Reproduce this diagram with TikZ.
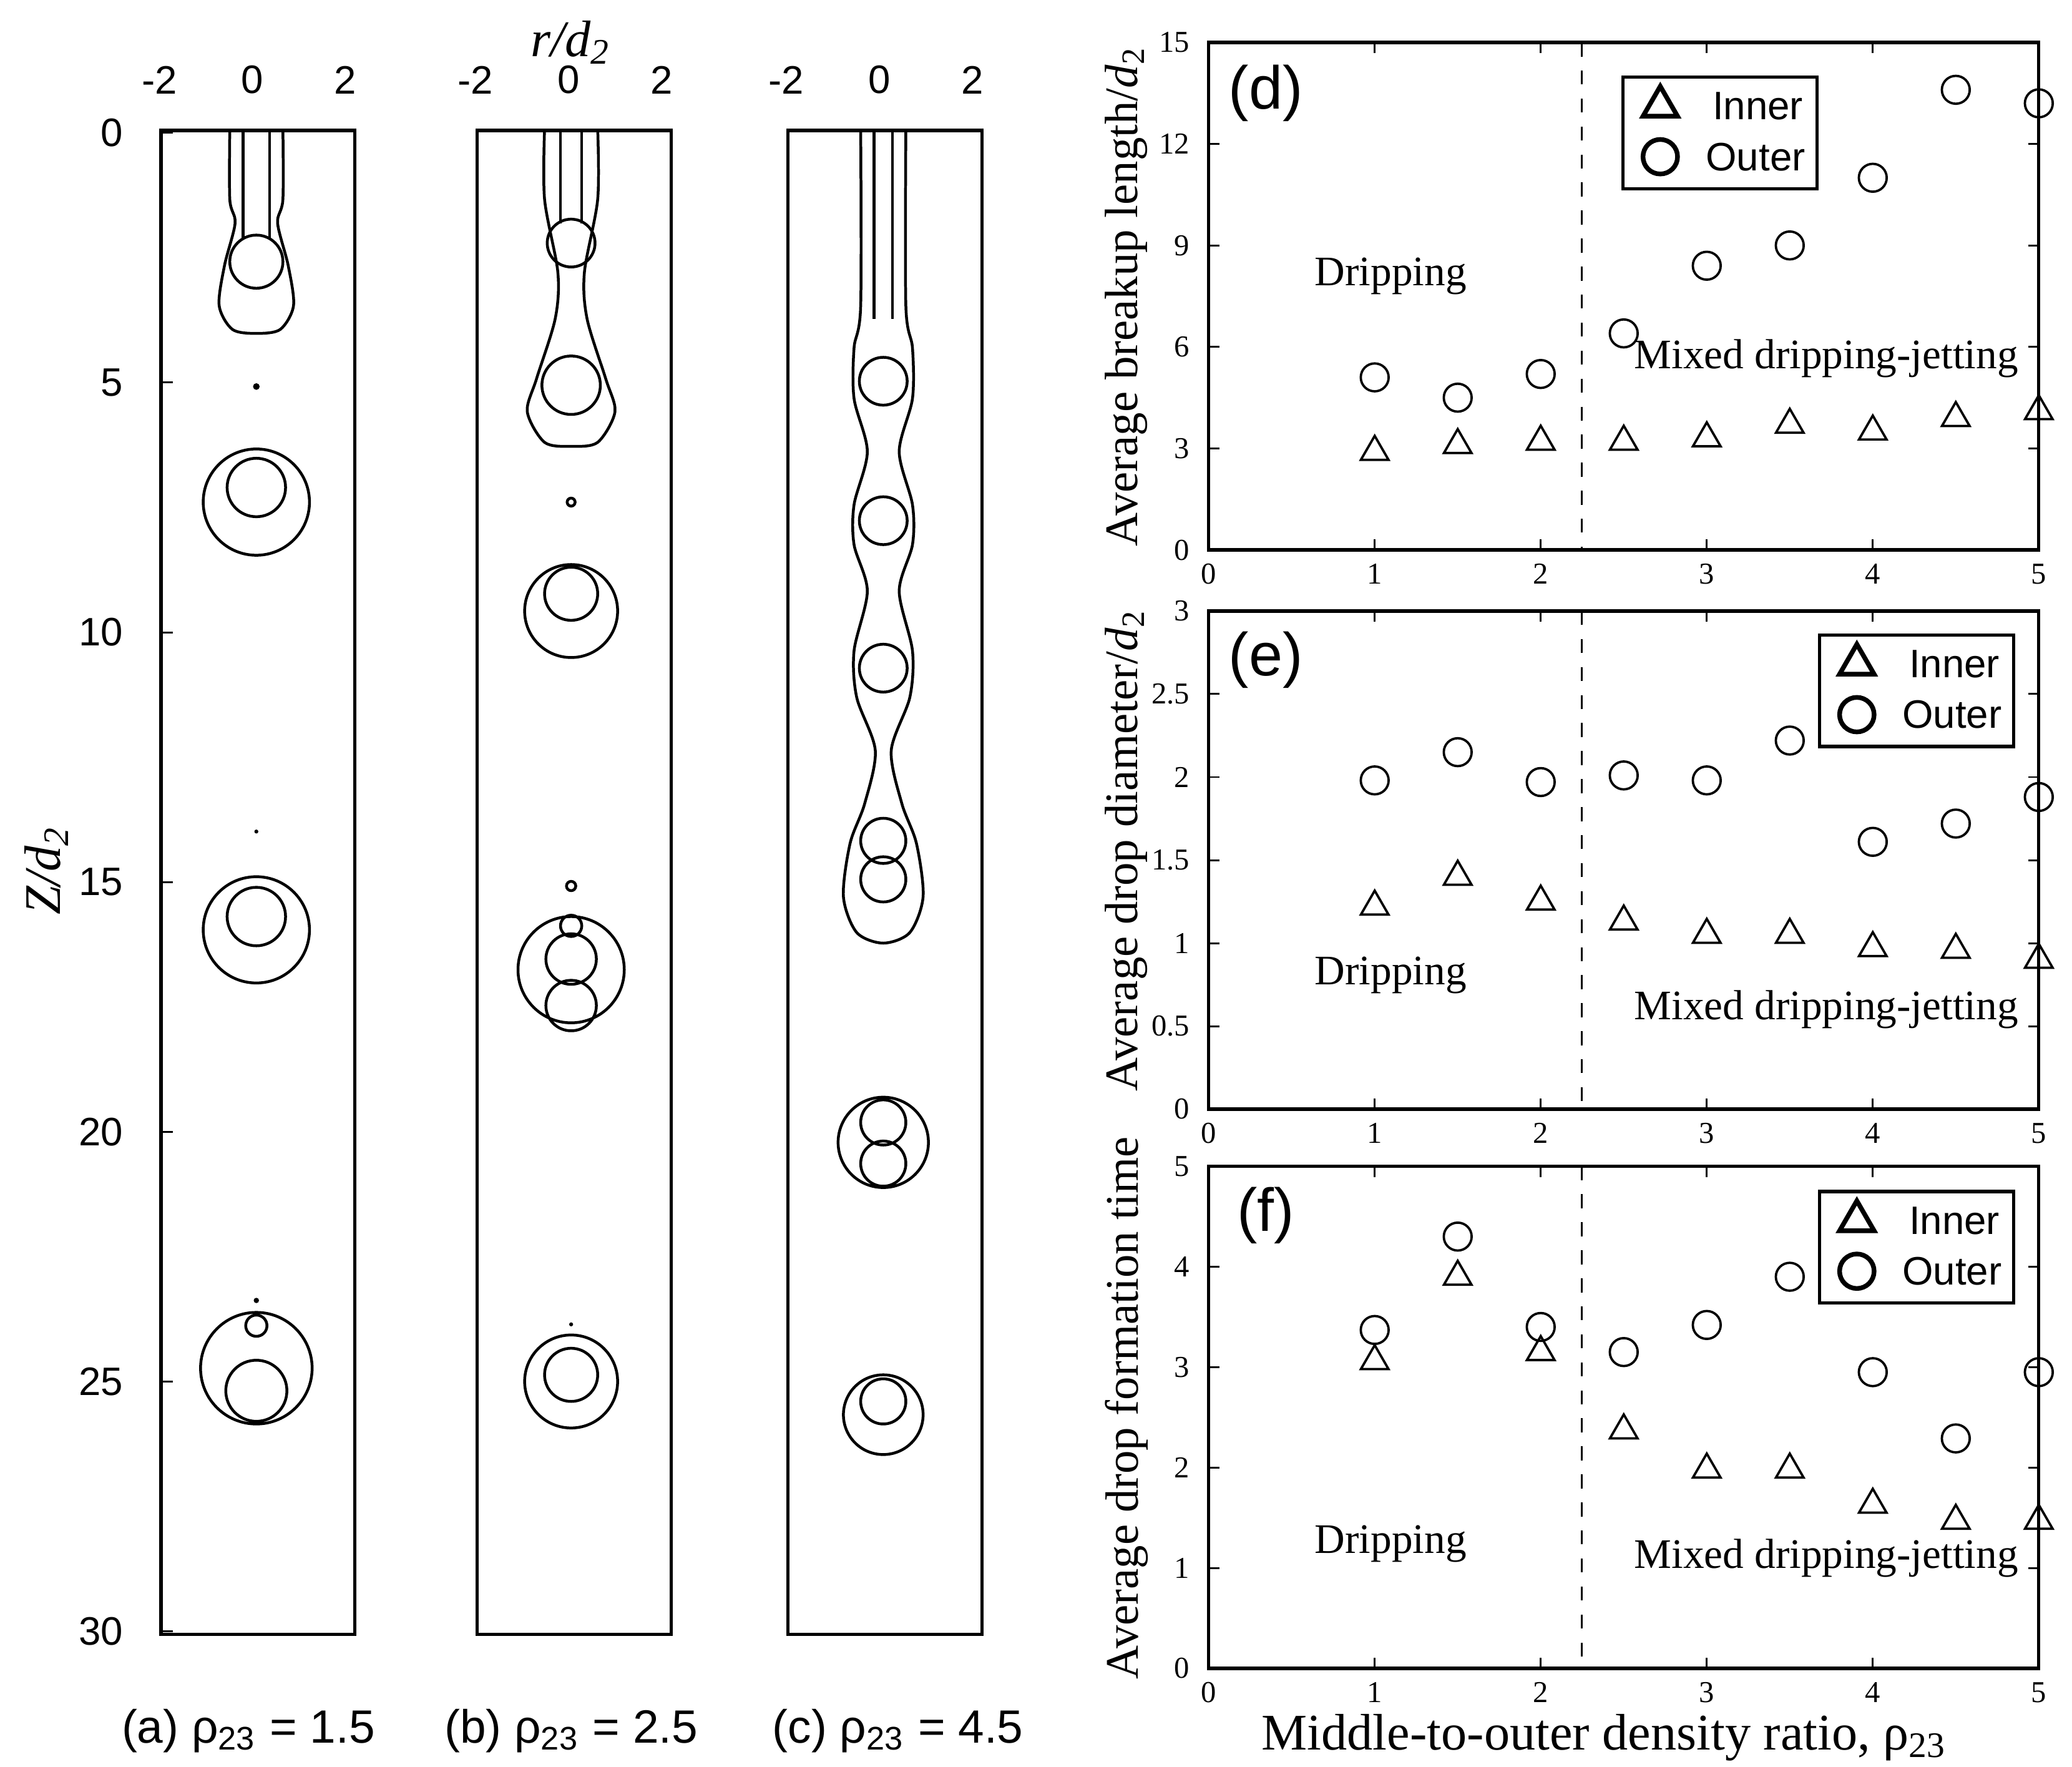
\documentclass[tikz,border=0pt]{standalone}
\usepackage{fontspec}
\setmainfont{Liberation Serif}
\setsansfont{Liberation Sans}
\usetikzlibrary{shapes, positioning, calc}
\tikzset{
  box/.style={draw, line width=0.7pt},
  shape line/.style={line width=0.6pt},
  tri/.style={draw, regular polygon, regular polygon sides=3, inner sep=0pt, minimum size=2.4mm, line width=0.5pt},
  circ/.style={draw, circle, inner sep=0pt, minimum size=2.1mm, line width=0.5pt},
  ticklab/.style={font=\fontsize{6.5}{6.5}\selectfont},
  sanslab/.style={font=\sffamily\fontsize{8.5}{8.5}\selectfont},
  regime/.style={font=\fontsize{9}{9}\selectfont},
}
\begin{document}
\begin{tikzpicture}[x=0.1mm, y=-0.1mm]
\useasboundingbox (0,0) rectangle (1560,1330);
% ---------- left: drop snapshots ----------
\foreach \bx/\nm in {120/a, 358/b, 592/c}{
  \node[box, minimum width=14.6mm, minimum height=113.2mm, inner sep=0pt, anchor=north west] (panel_\nm) at (\bx,97) {};
  \foreach \r in {-2,0,2}
    \node[sanslab, above] (rt_\nm\r) at ({\bx+70+\r*35},83) {\r};
}
\node[font=\itshape\fontsize{11}{11}\selectfont] (rlab) at (430,32) {r/d\textsubscript{2}};
\foreach \z in {0,5,10,15,20,25,30}{
  \node[sanslab, left] (zt\z) at (105,{100+\z*37.6}) {\z};
  \draw (panel_a.west |- 0,{100+\z*37.6}) -- ++(10,0);
}
\node[rotate=90, font=\itshape\fontsize{11}{11}\selectfont] (zlab) at (35,655) {Z/d\textsubscript{2}};
\node[font=\sffamily\fontsize{10}{10}\selectfont] (cap_a) at (187,1303) {(a) ρ\textsubscript{23} = 1.5};
\node[font=\sffamily\fontsize{10}{10}\selectfont] (cap_b) at (430,1303) {(b) ρ\textsubscript{23} = 2.5};
\node[font=\sffamily\fontsize{10}{10}\selectfont] (cap_c) at (676,1303) {(c) ρ\textsubscript{23} = 4.5};
% panel (a)
\begin{scope}[shift={(193,0)}, shape line]
  \draw plot[smooth] coordinates {(-20,97) (-20,150) (-16,168) (-24,200) (-28,230) (-18,248) (0,251) (18,248) (28,230) (24,200) (16,168) (20,150) (20,97)};
  \draw (-10,97) -- (-10,180) (10,97) -- (10,180);
  \draw (0,197) circle (20);
  \fill (0,291) circle (2.5);
  \draw (0,378) circle (40) (0,367) circle (22);
  \fill (0,626) circle (1.5);
  \draw (0,700) circle (40) (0,690) circle (22);
  \fill (0,979) circle (2);
  \draw (0,1030) circle (42) (0,1047) circle (23) (0,998) circle (8);
\end{scope}
% panel (b)
\begin{scope}[shift={(430,0)}, shape line]
  \draw plot[smooth] coordinates {(-20,97) (-20,150) (-10,205) (-12,240) (-26,285) (-33,310) (-20,333) (0,336) (20,333) (33,310) (26,285) (12,240) (10,205) (20,150) (20,97)};
  \draw (-8,97) -- (-8,168) (8,97) -- (8,168);
  \draw (0,183) circle (18) (0,290) circle (22);
  \draw (0,378) circle (3);
  \draw (0,460) circle (35) (0,447) circle (20);
  \draw (0,667) circle (3.5);
  \draw (0,730) circle (40) (0,722) circle (19) (0,757) circle (19) (0,697) circle (8);
  \fill (0,997) circle (1.5);
  \draw (0,1040) circle (35) (0,1035) circle (20);
\end{scope}
% panel (c)
\begin{scope}[shift={(665,0)}, shape line]
  \draw plot[smooth] coordinates {(-17,97) (-17,230) (-22,262) (-22,300) (-12,340) (-22,380) (-22,410) (-12,445) (-22,490) (-20,525) (-6,565) (-14,605) (-25,635) (-30,675) (-20,702) (0,710) (20,702) (30,675) (25,635) (14,605) (6,565) (20,525) (22,490) (12,445) (22,410) (22,380) (12,340) (22,300) (22,262) (17,230) (17,97)};
  \draw (-7,97) -- (-7,240) (7,97) -- (7,240);
  \foreach \yc in {287,392,503} \draw (0,\yc) circle (18);
  \draw (0,633) circle (17) (0,662) circle (17);
  \draw (0,860) circle (34) (0,845) circle (17) (0,876) circle (17);
  \draw (0,1065) circle (30) (0,1055) circle (17);
\end{scope}
% ---------- right: plots ----------
% #1 top, #2 bottom, #3 name
\newcommand{\plotframe}[3]{%
  \draw[line width=0.7pt] (910,#1) rectangle (1535,#2);
  \coordinate (frame_#3) at (910,#2);
  \foreach \xt in {1,...,4}
    \draw (910+\xt*125,#2) -- ++(0,-8) (910+\xt*125,#1) -- ++(0,8);
  \foreach \xt in {0,...,5}
    \node[ticklab, below] (xt_#3\xt) at (910+\xt*125,{#2-2}) {\xt};
  \draw[dashed] (1191,#1) -- (1191,#2);
}
\plotframe{32}{414}{d}
\plotframe{460}{835}{e}
\plotframe{878}{1256}{f}
% y ticks
\foreach \v in {0,3,6,9,12,15}{
  \node[ticklab, left] (yd\v) at (908,{414-\v*25.47}) {\v};
  \draw (910,{414-\v*25.47}) -- ++(8,0) (1535,{414-\v*25.47}) -- ++(-8,0);}
\foreach \v/\l in {0/0,0.5/0.5,1/1,1.5/1.5,2/2,2.5/2.5,3/3}{
  \node[ticklab, left] (ye\l) at (908,{835-\v*125}) {\l};
  \draw (910,{835-\v*125}) -- ++(8,0) (1535,{835-\v*125}) -- ++(-8,0);}
\foreach \v in {0,1,2,3,4,5}{
  \node[ticklab, left] (yf\v) at (908,{1256-\v*75.6}) {\v};
  \draw (910,{1256-\v*75.6}) -- ++(8,0) (1535,{1256-\v*75.6}) -- ++(-8,0);}
% data
\foreach \x/\t/\c [count=\i] in {1/2.9/5.1,1.5/3.1/4.5,2/3.2/5.2,2.5/3.2/6.4,3/3.3/8.4,3.5/3.7/9,4/3.5/11,4.5/3.9/13.6,5/4.1/13.2}{
  \node[tri] (dt\i) at ({910+\x*125},{414-\t*25.47}) {};
  \node[circ] (dc\i) at ({910+\x*125},{414-\c*25.47}) {};}
\foreach \x/\t/\c [count=\i] in {1/1.22/1.98,1.5/1.4/2.15,2/1.25/1.97,2.5/1.13/2.01,3/1.05/1.98,3.5/1.05/2.22,4/0.97/1.61,4.5/0.96/1.72,5/0.9/1.88}{
  \node[tri] (et\i) at ({910+\x*125},{835-\t*125}) {};
  \node[circ] (ec\i) at ({910+\x*125},{835-\c*125}) {};}
\foreach \x/\t/\c [count=\i] in {1/3.06/3.37,1.5/3.9/4.3,2/3.15/3.4,2.5/2.37/3.15,3/1.98/3.42,3.5/1.98/3.9,4/1.63/2.95,4.5/1.47/2.29,5/1.47/2.95}{
  \node[tri] (ft\i) at ({910+\x*125},{1256-\t*75.6}) {};
  \node[circ] (fc\i) at ({910+\x*125},{1256-\c*75.6}) {};}
% legends, labels
\foreach \lx/\ly/\nm in {1222/58/d, 1370/478/e, 1370/897/f}{
  \draw[line width=0.7pt] (\lx,\ly) rectangle ++(146,84);
  \node[tri, minimum size=3mm, line width=1pt] (lt_\nm) at (\lx+28,\ly+22) {};
  \node[circ, minimum size=2.6mm, line width=1pt] (lc_\nm) at (\lx+28,\ly+60) {};
  \node[sanslab, right] (ltx_\nm) at (\lx+55,\ly+22) {Inner};
  \node[sanslab, right] (lcx_\nm) at (\lx+50,\ly+60) {Outer};
}
\foreach \py/\nm/\dy/\my in {70/d/208/270, 497/e/734/760, 915/f/1162/1173}{
  \node[font=\sffamily\fontsize{13}{13}\selectfont] (tag_\nm) at (953,\py) {(\nm)};
  \node[regime] (drip_\nm) at (1047,\dy) {Dripping};
  \node[regime] (mix_\nm) at (1375,\my) {Mixed dripping-jetting};
}
\node[rotate=90, font=\fontsize{10}{10}\selectfont] (ylab_d) at (848,223) {Average breakup length/\textit{d}\textsubscript{2}};
\node[rotate=90, font=\fontsize{10}{10}\selectfont] (ylab_e) at (848,640) {Average drop diameter/\textit{d}\textsubscript{2}};
\node[rotate=90, font=\fontsize{10}{10}\selectfont] (ylab_f) at (848,1060) {Average drop formation time};
\node[font=\fontsize{11}{11}\selectfont] (xlab) at (1208,1308) {Middle-to-outer density ratio, ρ\textsubscript{23}};
\end{tikzpicture}
\end{document}
